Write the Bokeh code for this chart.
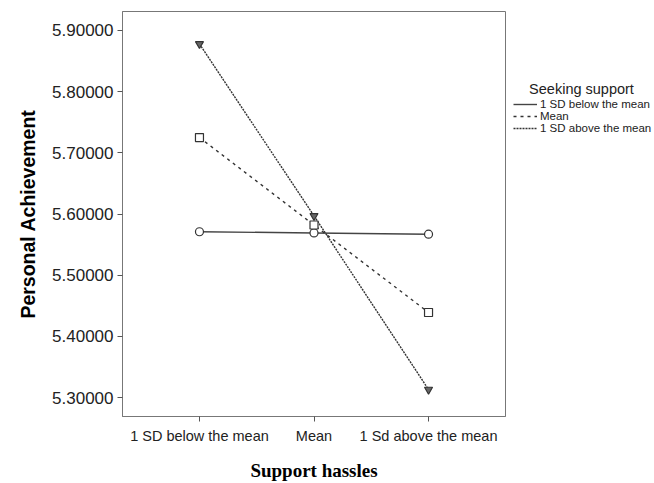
from bokeh.plotting import figure
from bokeh.layouts import row
from bokeh.models import Range1d, FixedTicker, PrintfTickFormatter, Legend, LegendItem, Label
from bokeh.embed import file_html
from bokeh.resources import INLINE

# ---- data ----
hassle_levels = ["1 SD below the mean", "Mean", "1 Sd above the mean"]
hassle_pos = [0, 1, 2]
support_groups = ["1 SD below the mean", "Mean", "1 SD above the mean"]
low_support = [5.571, 5.569, 5.567]
mean_support = [5.725, 5.582, 5.439]
high_support = [5.878, 5.597, 5.313]
y_ticks = [5.3, 5.4, 5.5, 5.6, 5.7, 5.8, 5.9]
legend_title = "Seeking support"

SANS = "Liberation Sans"
SERIF = "Liberation Serif"
INK = "#333333"
series_values = [low_support, mean_support, high_support]
series_styles = [dict(line_color="#444444", line_width=1.4),
                 dict(line_color="#333333", line_width=1.4, line_dash="3 4"),
                 dict(line_color="#333333", line_width=1.4, line_dash="2 1")]

p = figure(width=507, height=483, output_backend="svg", toolbar_location=None,
           x_range=Range1d(-0.672, 2.672), y_range=Range1d(5.269, 5.931),
           min_border_left=122, min_border_top=11, min_border_right=2, min_border_bottom=66)
p.grid.visible = False
p.outline_line_color = "#777777"
p.outline_line_width = 1
p.background_fill_color = "white"
p.border_fill_color = "white"

# axes
p.xaxis.ticker = FixedTicker(ticks=hassle_pos)
p.xaxis.major_label_overrides = {pos: lab for pos, lab in zip(hassle_pos, hassle_levels)}
p.yaxis.ticker = FixedTicker(ticks=y_ticks)
p.yaxis.formatter = PrintfTickFormatter(format="%.5f")
for ax in (p.xaxis[0], p.yaxis[0]):
    ax.axis_line_color = "#777777"
    ax.major_tick_line_color = "#555555"
    ax.major_tick_in = 0
    ax.major_tick_out = 5
    ax.minor_tick_line_color = None
    ax.major_label_text_color = "#222222"
    ax.major_label_text_font = SANS
    ax.axis_label_text_color = "black"
    ax.axis_label_text_font_style = "bold"

p.xaxis.major_label_text_font_size = "14.5px"
p.xaxis.major_label_standoff = 6
p.xaxis.axis_label = "Support hassles"
p.xaxis.axis_label_text_font = SERIF
p.xaxis.axis_label_text_font_size = "19px"
p.xaxis.axis_label_standoff = 13

p.yaxis.major_label_text_font_size = "17px"
p.yaxis.major_label_standoff = 4
p.yaxis.axis_label = "Personal Achievement"
p.yaxis.axis_label_text_font = SANS
p.yaxis.axis_label_text_font_size = "19.5px"
p.yaxis.axis_label_standoff = 10

# series
for vals, st in zip(series_values, series_styles):
    p.line(hassle_pos, vals, **st)

p.scatter(hassle_pos, low_support, marker="circle", size=8, line_color=INK,
          fill_color="white", line_width=1.2)
p.scatter(hassle_pos, mean_support, marker="square", size=8, line_color=INK,
          fill_color="white", line_width=1.2)
p.scatter(hassle_pos, high_support, marker="inverted_triangle", size=8, line_color=INK,
          fill_color="#666666", line_width=1.2)

# legend panel (separate figure to the right of the plot frame); the same
# series are attached there (out of its view) only to supply legend glyphs
lg = figure(width=147, height=483, output_backend="svg", toolbar_location=None,
            x_axis_type=None, y_axis_type=None,
            x_range=Range1d(0, 1), y_range=Range1d(0, 1),
            min_border_left=0, min_border_right=0, min_border_top=0, min_border_bottom=0)
lg.grid.visible = False
lg.outline_line_color = None
lg.background_fill_color = "white"
lg.border_fill_color = "white"
legend_renderers = [lg.line(hassle_pos, vals, **st)
                    for vals, st in zip(series_values, series_styles)]

legend = Legend(items=[LegendItem(label=lab, renderers=[r])
                       for lab, r in zip(support_groups, legend_renderers)],
                location=(6, 282),
                label_text_font=SANS, label_text_font_size="11.5px",
                label_text_color="#222222",
                glyph_width=24, glyph_height=12, label_height=12, label_standoff=3,
                spacing=-3, padding=0, margin=0,
                border_line_color=None, background_fill_alpha=0)
lg.add_layout(legend, "center")

# centred legend title
lg.add_layout(Label(x=74, y=328, x_units="screen", y_units="screen", text=legend_title,
                    text_font=SANS, text_font_size="14.5px", text_color="#222222",
                    text_align="center", text_baseline="middle"))

layout = row(p, lg, spacing=0)
open("out.html", "w").write(file_html(layout, INLINE))
